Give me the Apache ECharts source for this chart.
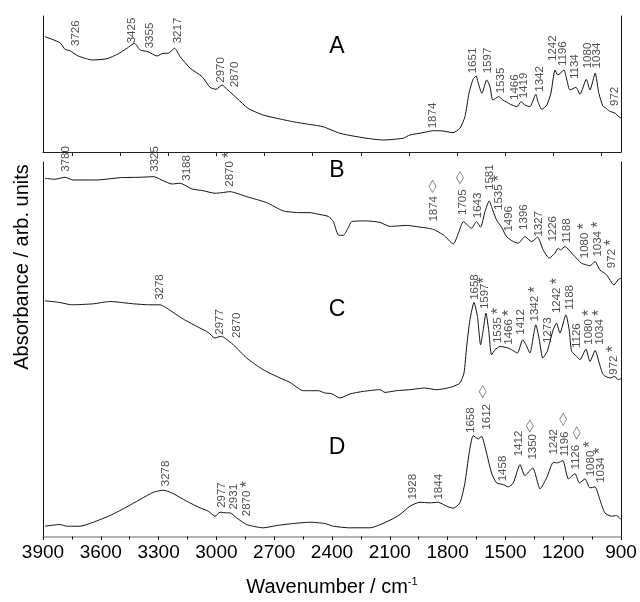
<!DOCTYPE html>
<html>
<head>
<meta charset="utf-8">
<script src="https://cdn.jsdelivr.net/npm/echarts@6/dist/echarts.min.js"></script>
<style>
  html, body {margin: 0; padding: 0; background: #fff;}
  #chart {width: 640px; height: 602px;}
</style>
</head>
<body>
<div id="chart"></div>
<script>
// spectra, [wavenumber, absorbance (arb. units)]
var trA = [[3890,115.3],[3812,109.3],[3786,102.7],[3760,101.3],[3718,96],[3641,92],[3568,93.3],[3511,98],[3464,103.7],
    [3425,108.7],[3396,102],[3355,100.3],[3308,96],[3277,98.7],[3251,98.7],[3217,103.7],[3188,95.3],[3136,83.7],[3074,75.3],
    [3033,64.7],[3002,62.7],[2970,67],[2945,62.7],[2893,53.7],[2836,43.7],[2758,37],[2686,33.7],[2603,30.3],[2514,27.5],
    [2447,25.3],[2359,18.7],[2291,16],[2219,13.7],[2136,12],[2032,13.7],[1996,17],[1928,19.3],[1874,21.3],[1824,21],
    [1772,19.3],[1736,23.7],[1710,35.3],[1689,58.7],[1668,72.7],[1651,76],[1643,70.3],[1622,58.7],[1597,72],[1580,65.3],
    [1565,52],[1535,55.3],[1513,52],[1477,48],[1466,47],[1440,45.3],[1419,50.3],[1399,47],[1373,45.3],[1342,57.7],
    [1331,50.3],[1311,42.7],[1285,47],[1264,58.7],[1242,82],[1228,77],[1196,82],[1181,72],[1165,62],[1134,64.7],
    [1113,57.7],[1080,72.7],[1061,62],[1034,78.7],[1015,58.7],[994,46],[980,44],[960,41],[930,38.7],[912,35.3],[900,34]];

var trB = [[3890,358.7],[3838,357.7],[3786,359.7],[3744,357],[3620,357],[3500,359.3],[3397,359.7],[3325,360.3],[3277,356.3],
    [3231,353],[3188,353.7],[3127,348],[3070,346.3],[3007,343.7],[2971,344.3],[2930,345.3],[2843,340.3],[2739,334.3],
    [2653,326],[2566,324.3],[2514,324.3],[2480,323],[2419,320.5],[2393,315.3],[2368,302],[2342,301.5],[2316,309],
    [2298,315.3],[2220,316],[2151,314.5],[2099,310.5],[2013,311.5],[1950,310],[1901,308.7],[1874,307.5],[1822,302],
    [1770,293],[1744,303.7],[1718,315.3],[1676,308.7],[1650,315.3],[1629,309.7],[1606,325.3],[1584,336],[1566,327],
    [1546,317],[1520,309.7],[1494,300.3],[1459,295.3],[1433,293.7],[1399,300.3],[1364,295.3],[1333,299.7],[1304,287],
    [1273,278.7],[1243,283.7],[1226,288.7],[1214,287],[1191,290.3],[1148,282],[1105,273.7],[1079,272],[1061,271],
    [1035,275.3],[1010,267],[975,262],[937,252],[915,257],[900,258.7]];

var trC = [[3890,236],[3812,234.3],[3751,232],[3639,233],[3552,235.3],[3431,233],[3345,232],[3293,232],[3258,228.7],
    [3172,217.7],[3085,208.7],[3042,204.3],[3007,198.7],[2981,200.3],[2964,199.7],[2912,192],[2843,178.7],[2757,167],
    [2670,158.7],[2618,154.3],[2549,146],[2471,146],[2437,143.7],[2402,143],[2359,138.7],[2307,142.7],[2238,145.3],
    [2151,147],[2125,144.3],[2065,146],[1996,147],[1918,148.7],[1857,147],[1779,149.7],[1736,153.7],[1715,163.7],
    [1701,190.3],[1684,217],[1663,234.3],[1645,220.3],[1629,192],[1615,207],[1601,223.7],[1587,207],[1572,182],
    [1554,187],[1528,190.3],[1485,188.7],[1468,187],[1438,183.7],[1410,197],[1393,192],[1373,183.7],[1342,212],
    [1324,197],[1306,178.7],[1283,185.3],[1273,192],[1252,207],[1235,213.7],[1217,203.7],[1186,222],[1169,207],
    [1156,185.3],[1130,180.3],[1113,177],[1082,187.7],[1061,175.3],[1034,186.3],[1013,173.7],[992,162],[957,158.7],
    [932,160.3],[915,157],[900,158]];

var trD = [[3890,10.3],[3812,12],[3777,10.3],[3708,10.3],[3639,14.3],[3552,21],[3474,28.7],[3397,37],[3327,44.3],
    [3276,46.3],[3232,43.7],[3154,35.3],[3085,28.7],[3042,25.3],[3007,20.3],[2981,24.3],[2947,23.7],[2930,23.7],
    [2895,18.7],[2843,12],[2757,8.7],[2687,11],[2601,13],[2514,14.3],[2437,13],[2393,10.3],[2307,8.7],[2203,8.7],
    [2099,16.3],[2047,22],[1996,30.3],[1944,34.3],[1892,33.7],[1849,34.3],[1805,30.3],[1771,28.3],[1736,33.7],
    [1710,53.7],[1688,83.7],[1667,101],[1641,97.7],[1624,100.3],[1598,83.7],[1572,63.7],[1546,53.7],[1511,52],
    [1485,49.7],[1459,53.7],[1424,72],[1399,61],[1358,68.7],[1320,47.7],[1286,58.7],[1251,74.3],[1230,73.7],
    [1202,76],[1173,57.7],[1139,63],[1116,53.7],[1087,57.7],[1061,48.7],[1035,49.7],[1010,37],[984,23.7],
    [949,20.3],[923,21],[900,17]];

// peak labels, [wavenumber, absorbance, text]
var pkA = [[3729,106,'3726'],[3440,108.7,'3425'],[3345,103.7,'3355'],[3201,108.7,'3217'],[2978,69.3,'2970'],
    [2903,64.7,'2870'],[1877,23.7,'1874'],[1670,78.7,'1651'],[1592,78.7,'1597'],[1523,58.7,'1535'],[1450,52,'1466'],
    [1402,53.7,'1419'],[1321,60.3,'1342'],[1252,91,'1242'],[1200,86,'1196'],[1139,73,'1134'],[1073,83.7,'1080'],
    [1023,83.7,'1034'],[931,46,'972']];
var pkB = [[3781,365.3,'3780'],[3319,365.3,'3325'],[3154,356.3,'3188'],[2929,350.3,'2870 *'],[1874,315.3,'1874'],
    [1719,322,'1705'],[1641,318.7,'1643'],[1580,347,'1581'],[1532,327,'1535 *'],[1480,305.3,'1496'],[1402,307,'1396'],
    [1329,300.3,'1327'],[1252,295.3,'1226'],[1179,293.7,'1188'],[1087,278.7,'1080 *'],[1018,280.3,'1034 *'],
    [949,268.7,'972 *']];
var pkC = [[3296,237,'3278'],[2981,202,'2977'],[2892,198.7,'2870'],[1658,237,'1658'],[1606,227.7,'1597*'],
    [1537,193.7,'1535 *'],[1480,192,'1466 *'],[1419,202,'1412'],[1345,215.3,'1342 *'],[1281,193.7,'1273'],
    [1231,223.7,'1242 *'],[1165,227,'1188'],[1130,188.7,'1126'],[1065,192,'1080 *'],[1009,192,'1034 *'],[937,162,'972 *']];
var pkD = [[3262,50.3,'3278'],[2973,28.7,'2977'],[2912,27,'2931'],[2840,20.3,'2870 *'],[1978,37,'1928'],
    [1843,37,'1844'],[1679,103.7,'1658'],[1597,107,'1612'],[1511,55.3,'1458'],[1428,80.3,'1412'],[1358,77,'1350'],
    [1248,82,'1242'],[1191,80.3,'1196'],[1134,67,'1126'],[1058,60.3,'1080 *'],[1006,53.7,'1034 *']];

// diamond marks
var dmB = [[1878,350.7],[1736,359.3],[1597,379.3]];
var dmD = [[1618,145],[1373,110.7],[1200,117.3],[1130,103.7]];

var topTicks = [1000,1250,1500,1750,2000,2250,2500,2750,3000,3250,3500,3750];

var FONT = 'Liberation Sans, Arial, sans-serif';

function lineSeries(data, y) {
    return {type: 'line', data: data, xAxisIndex: y === 0 ? 0 : 1, yAxisIndex: y, showSymbol: false, symbol: 'none',
        smooth: 0.2, lineStyle: {color: '#111', width: 1}, silent: true};
}

function labelSeries(data, y) {
    return {
        type: 'scatter', data: data, xAxisIndex: y === 0 ? 0 : 1, yAxisIndex: y, symbolSize: 0, silent: true,
        label: {
            show: true, position: 'inside', rotate: 90, align: 'left', verticalAlign: 'middle',
            fontFamily: FONT, fontSize: 11.5, color: '#222',
            formatter: function (p) { return p.data[2].replace('*', '{s|*}'); },
            rich: {s: {fontSize: 16, fontFamily: FONT, color: '#222'}}
        }
    };
}

function diamondSeries(data) {
    return {type: 'scatter', data: data, xAxisIndex: 1, yAxisIndex: 2, symbol: 'diamond', symbolSize: [7, 12], silent: true,
        itemStyle: {color: 'rgba(0,0,0,0)', borderColor: '#555', borderWidth: 0.8}};
}

var chart = echarts.init(document.getElementById('chart'));

chart.setOption({
    animation: false,
    grid: [
        {left: 43, right: 19, top: 16, height: 136},
        {left: 43, right: 19, top: 162, height: 375}
    ],
    xAxis: [
        {gridIndex: 0, type: 'value', min: 900, max: 3900, inverse: true, position: 'top',
            axisLine: {show: true, lineStyle: {color: '#222', width: 1}},
            axisTick: {show: true, inside: true, length: 4, customValues: topTicks, lineStyle: {color: '#222'}},
            axisLabel: {show: false}, splitLine: {show: false}},
        {gridIndex: 1, type: 'value', min: 900, max: 3900, interval: 300, inverse: true,
            axisLine: {show: true, onZero: false, lineStyle: {color: '#999', width: 1.5}},
            axisTick: {show: true, length: 3.5, lineStyle: {color: '#111'}},
            minorTick: {show: true, splitNumber: 2, length: 3, lineStyle: {color: '#111'}},
            axisLabel: {fontFamily: FONT, fontSize: 19, color: '#000', margin: 7,
                formatter: function (v) { return String(v); }},
            splitLine: {show: false},
            name: 'Wavenumber / cm{sup|-1}', nameLocation: 'middle', nameGap: 40,
            nameTextStyle: {fontFamily: FONT, fontSize: 20, color: '#000',
                rich: {sup: {fontFamily: FONT, fontSize: 11, color: '#000', verticalAlign: 'top', padding: [0, 0, 10, 0]}}}}
    ],
    yAxis: [
        {gridIndex: 0, type: 'value', min: 0, max: 136, axisLine: {show: true, lineStyle: {color: '#111'}},
            axisTick: {show: false}, axisLabel: {show: false}, splitLine: {show: false}},
        {gridIndex: 0, type: 'value', min: 0, max: 136, position: 'right', axisLine: {show: true, lineStyle: {color: '#111'}},
            axisTick: {show: false}, axisLabel: {show: false}, splitLine: {show: false}},
        {gridIndex: 1, type: 'value', min: 0, max: 375, axisLine: {show: true, lineStyle: {color: '#111'}},
            axisTick: {show: false}, axisLabel: {show: false}, splitLine: {show: false}},
        {gridIndex: 1, type: 'value', min: 0, max: 375, position: 'right', axisLine: {show: true, lineStyle: {color: '#111'}},
            axisTick: {show: false}, axisLabel: {show: false}, splitLine: {show: false}}
    ],
    graphic: [
        {type: 'text', x: 22, y: 267, rotation: Math.PI / 2,
            style: {text: 'Absorbance / arb. units', font: '20px ' + FONT, fill: '#000', align: 'center', verticalAlign: 'middle'}},
        {type: 'text', x: 337, y: 47, style: {text: 'A', font: '23px ' + FONT, fill: '#000', align: 'center', verticalAlign: 'middle'}},
        {type: 'text', x: 337, y: 171, style: {text: 'B', font: '23px ' + FONT, fill: '#000', align: 'center', verticalAlign: 'middle'}},
        {type: 'text', x: 337, y: 310, style: {text: 'C', font: '23px ' + FONT, fill: '#000', align: 'center', verticalAlign: 'middle'}},
        {type: 'text', x: 337, y: 448, style: {text: 'D', font: '23px ' + FONT, fill: '#000', align: 'center', verticalAlign: 'middle'}}
    ],
    series: [
        lineSeries(trA, 0), lineSeries(trB, 2), lineSeries(trC, 2), lineSeries(trD, 2),
        labelSeries(pkA, 0), labelSeries(pkB, 2), labelSeries(pkC, 2), labelSeries(pkD, 2),
        diamondSeries(dmB), diamondSeries(dmD)
    ]
});
</script>
</body>
</html>
